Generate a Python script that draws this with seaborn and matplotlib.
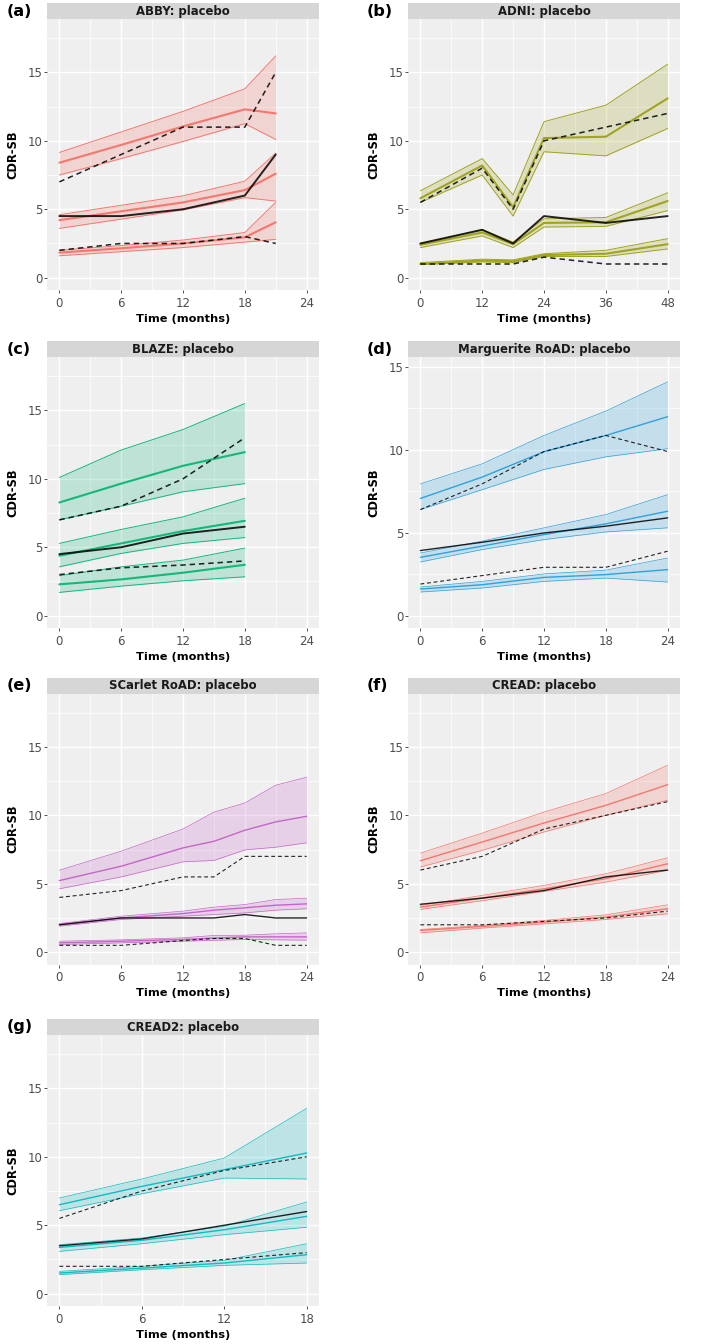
import matplotlib
matplotlib.use("Agg")
import matplotlib.pyplot as plt
from matplotlib.patches import Rectangle
from matplotlib.ticker import FixedLocator
import seaborn as sns
import pandas as pd

# ---------------- data ----------------
ABBY_t = [0, 6, 12, 18, 21]
ABBY_hi_lo = [7.5, 8.7, 9.95, 11.25, 10.1]
ABBY_hi_md = [8.4, 9.7, 11.05, 12.3, 12.0]
ABBY_hi_up = [9.15, 10.65, 12.15, 13.8, 16.2]
ABBY_mid_lo = [3.6, 4.28, 4.95, 5.85, 5.6]
ABBY_mid_md = [4.2, 4.85, 5.5, 6.4, 7.6]
ABBY_mid_up = [4.6, 5.29, 5.98, 7.05, 9.1]
ABBY_low_lo = [1.6, 1.9, 2.2, 2.6, 2.8]
ABBY_low_md = [1.83, 2.15, 2.5, 2.95, 4.05]
ABBY_low_up = [2.0, 2.35, 2.75, 3.3, 5.5]
ABBY_obs90 = [7.0, 9.0, 11.0, 11.0, 15.0]
ABBY_obs50 = [4.5, 4.5, 5.0, 6.0, 9.0]
ABBY_obs10 = [2.0, 2.5, 2.5, 3.0, 2.5]

ADNI_t = [0, 12, 18, 24, 36, 48]
ADNI_hi_lo = [5.5, 7.5, 4.5, 9.2, 8.9, 10.9]
ADNI_hi_md = [5.8, 8.2, 5.15, 10.2, 10.3, 13.1]
ADNI_hi_up = [6.35, 8.7, 6.05, 11.4, 12.6, 15.6]
ADNI_mid_lo = [2.2, 3.05, 2.2, 3.7, 3.75, 4.9]
ADNI_mid_md = [2.4, 3.3, 2.45, 4.0, 4.05, 5.6]
ADNI_mid_up = [2.5, 3.5, 2.6, 4.3, 4.4, 6.2]
ADNI_low_lo = [0.95, 1.15, 1.1, 1.55, 1.55, 2.1]
ADNI_low_md = [1.0, 1.25, 1.2, 1.65, 1.75, 2.45]
ADNI_low_up = [1.1, 1.35, 1.3, 1.75, 2.0, 2.85]
ADNI_obs90 = [5.5, 8.0, 5.0, 10.0, 11.0, 12.0]
ADNI_obs50 = [2.5, 3.5, 2.5, 4.5, 4.0, 4.5]
ADNI_obs10 = [1.0, 1.0, 1.0, 1.5, 1.0, 1.0]

BLAZE_t = [0, 6, 12, 18]
BLAZE_hi_lo = [7.0, 8.0, 9.05, 9.65]
BLAZE_hi_md = [8.27, 9.65, 10.95, 11.95]
BLAZE_hi_up = [10.1, 12.1, 13.6, 15.5]
BLAZE_mid_lo = [3.57, 4.55, 5.28, 5.71]
BLAZE_mid_md = [4.38, 5.28, 6.18, 6.93]
BLAZE_mid_up = [5.28, 6.3, 7.22, 8.58]
BLAZE_low_lo = [1.7, 2.16, 2.55, 2.84]
BLAZE_low_md = [2.29, 2.65, 3.14, 3.72]
BLAZE_low_up = [2.92, 3.57, 4.06, 4.94]
BLAZE_obs90 = [7.0, 8.0, 10.0, 13.0]
BLAZE_obs50 = [4.5, 5.0, 6.0, 6.5]
BLAZE_obs10 = [3.0, 3.5, 3.7, 4.0]

MARG_t = [0, 6, 12, 18, 24]
MARG_hi_lo = [6.4, 7.6, 8.82, 9.58, 10.07]
MARG_hi_md = [7.07, 8.36, 9.89, 10.87, 12.0]
MARG_hi_up = [7.95, 9.16, 10.87, 12.34, 14.1]
MARG_mid_lo = [3.24, 3.99, 4.59, 5.05, 5.3]
MARG_mid_md = [3.52, 4.2, 4.89, 5.54, 6.3]
MARG_mid_up = [3.78, 4.5, 5.3, 6.1, 7.3]
MARG_low_lo = [1.43, 1.67, 2.07, 2.27, 2.03]
MARG_low_md = [1.61, 1.87, 2.31, 2.48, 2.78]
MARG_low_up = [1.73, 2.07, 2.52, 2.75, 3.48]
MARG_obs90 = [6.4, 7.95, 9.9, 10.87, 9.9]
MARG_obs50 = [3.93, 4.43, 4.99, 5.4, 5.9]
MARG_obs10 = [1.91, 2.42, 2.92, 2.92, 3.89]

SCAR_t = [0, 6, 12, 15, 18, 21, 24]
SCAR_hi_lo = [4.63, 5.5, 6.6, 6.7, 7.47, 7.67, 7.99]
SCAR_hi_md = [5.23, 6.28, 7.62, 8.1, 8.91, 9.52, 9.93]
SCAR_hi_up = [5.99, 7.38, 9.0, 10.23, 10.9, 12.2, 12.78]
SCAR_mid_lo = [1.9, 2.39, 2.63, 2.75, 2.87, 3.07, 3.17]
SCAR_mid_md = [2.02, 2.5, 2.82, 3.07, 3.24, 3.43, 3.53]
SCAR_mid_up = [2.09, 2.63, 3.0, 3.29, 3.48, 3.85, 3.94]
SCAR_low_lo = [0.56, 0.68, 0.8, 0.87, 0.93, 0.9, 0.88]
SCAR_low_md = [0.68, 0.8, 0.93, 1.03, 1.12, 1.12, 1.12]
SCAR_low_up = [0.8, 0.9, 1.05, 1.22, 1.24, 1.34, 1.41]
SCAR_obs90 = [4.0, 4.5, 5.5, 5.5, 7.0, 7.0, 7.0]
SCAR_obs50 = [2.0, 2.5, 2.5, 2.5, 2.75, 2.5, 2.5]
SCAR_obs10 = [0.5, 0.5, 0.85, 1.0, 1.0, 0.5, 0.5]

CREAD_t = [0, 6, 12, 18, 24]
CREAD_hi_lo = [6.22, 7.44, 8.78, 10.0, 11.1]
CREAD_hi_md = [6.68, 8.05, 9.44, 10.73, 12.24]
CREAD_hi_up = [7.24, 8.7, 10.24, 11.59, 13.66]
CREAD_mid_lo = [3.12, 3.76, 4.44, 5.12, 5.98]
CREAD_mid_md = [3.29, 3.95, 4.63, 5.37, 6.46]
CREAD_mid_up = [3.41, 4.15, 4.88, 5.73, 6.9]
CREAD_low_lo = [1.41, 1.76, 2.07, 2.39, 2.8]
CREAD_low_md = [1.59, 1.88, 2.2, 2.56, 3.17]
CREAD_low_up = [1.66, 1.95, 2.32, 2.73, 3.46]
CREAD_obs90 = [6.0, 7.0, 9.0, 10.0, 11.0]
CREAD_obs50 = [3.5, 3.95, 4.5, 5.5, 6.0]
CREAD_obs10 = [2.0, 2.0, 2.25, 2.5, 3.0]

CREAD2_t = [0, 6, 12, 18]
CREAD2_hi_lo = [6.06, 7.3, 8.45, 8.38]
CREAD2_hi_md = [6.5, 7.84, 9.06, 10.28]
CREAD2_hi_up = [6.99, 8.38, 9.91, 13.54]
CREAD2_mid_lo = [3.09, 3.65, 4.31, 4.85]
CREAD2_mid_md = [3.38, 3.9, 4.67, 5.65]
CREAD2_mid_up = [3.58, 4.07, 4.92, 6.7]
CREAD2_low_lo = [1.39, 1.75, 2.07, 2.24]
CREAD2_low_md = [1.51, 1.87, 2.24, 2.85]
CREAD2_low_up = [1.63, 2.0, 2.43, 3.65]
CREAD2_obs90 = [5.5, 7.5, 9.0, 10.0]
CREAD2_obs50 = [3.5, 4.0, 5.0, 6.0]
CREAD2_obs10 = [2.0, 2.0, 2.5, 3.0]

titles = ["ABBY: placebo", "ADNI: placebo", "BLAZE: placebo",
          "Marguerite RoAD: placebo", "SCarlet RoAD: placebo",
          "CREAD: placebo", "CREAD2: placebo"]
panel_tags = ["(a)", "(b)", "(c)", "(d)", "(e)", "(f)", "(g)"]
colors = ["#F8766D", "#A0A41E", "#14B87A", "#2FA2DE", "#C566C9", "#F8766D", "#10BCC2"]
xtick_sets = [[0, 6, 12, 18, 24], [0, 12, 24, 36, 48], [0, 6, 12, 18, 24],
              [0, 6, 12, 18, 24], [0, 6, 12, 18, 24], [0, 6, 12, 18, 24],
              [0, 6, 12, 18]]
yticks = [0, 5, 10, 15]

panels = [
    (ABBY_t, [(ABBY_hi_lo, ABBY_hi_md, ABBY_hi_up), (ABBY_mid_lo, ABBY_mid_md, ABBY_mid_up),
              (ABBY_low_lo, ABBY_low_md, ABBY_low_up)], ABBY_obs90, ABBY_obs50, ABBY_obs10),
    (ADNI_t, [(ADNI_hi_lo, ADNI_hi_md, ADNI_hi_up), (ADNI_mid_lo, ADNI_mid_md, ADNI_mid_up),
              (ADNI_low_lo, ADNI_low_md, ADNI_low_up)], ADNI_obs90, ADNI_obs50, ADNI_obs10),
    (BLAZE_t, [(BLAZE_hi_lo, BLAZE_hi_md, BLAZE_hi_up), (BLAZE_mid_lo, BLAZE_mid_md, BLAZE_mid_up),
               (BLAZE_low_lo, BLAZE_low_md, BLAZE_low_up)], BLAZE_obs90, BLAZE_obs50, BLAZE_obs10),
    (MARG_t, [(MARG_hi_lo, MARG_hi_md, MARG_hi_up), (MARG_mid_lo, MARG_mid_md, MARG_mid_up),
              (MARG_low_lo, MARG_low_md, MARG_low_up)], MARG_obs90, MARG_obs50, MARG_obs10),
    (SCAR_t, [(SCAR_hi_lo, SCAR_hi_md, SCAR_hi_up), (SCAR_mid_lo, SCAR_mid_md, SCAR_mid_up),
              (SCAR_low_lo, SCAR_low_md, SCAR_low_up)], SCAR_obs90, SCAR_obs50, SCAR_obs10),
    (CREAD_t, [(CREAD_hi_lo, CREAD_hi_md, CREAD_hi_up), (CREAD_mid_lo, CREAD_mid_md, CREAD_mid_up),
               (CREAD_low_lo, CREAD_low_md, CREAD_low_up)], CREAD_obs90, CREAD_obs50, CREAD_obs10),
    (CREAD2_t, [(CREAD2_hi_lo, CREAD2_hi_md, CREAD2_hi_up), (CREAD2_mid_lo, CREAD2_mid_md, CREAD2_mid_up),
                (CREAD2_low_lo, CREAD2_low_md, CREAD2_low_up)], CREAD2_obs90, CREAD2_obs50, CREAD2_obs10),
]

# ---------------- style ----------------
sns.set_theme(style="darkgrid", rc={
    "axes.facecolor": "#EFEFEF",
    "grid.color": "white",
    "axes.edgecolor": "none",
})
plt.rcParams["font.family"] = ["DejaVu Sans"]

W, H = 709, 1344
fig = plt.figure(figsize=(W / 100, H / 100), dpi=100)

col_left = [47, 408]
col_w = 272
row_tops = [19, 357, 693.5, 1035]
ax_h = 271
strip_h = 16

for i, (t, bands, o90, o50, o10) in enumerate(panels):
    r, c = divmod(i, 2)
    left = col_left[c]
    top = row_tops[r]
    ax = fig.add_axes([left / W, 1 - (top + ax_h) / H, col_w / W, ax_h / H])
    col = colors[i]
    thick = i in (0, 1, 2)
    lw_md = 1.5 if thick else 1.0
    lw_b = 0.7 if thick else 0.5
    lw_k = 1.4 if thick else 1.0

    for lo, md, up in bands:
        ax.fill_between(t, lo, up, color=col, alpha=0.22, linewidth=0)
        sns.lineplot(x=t, y=lo, ax=ax, color=col, linewidth=lw_b)
        sns.lineplot(x=t, y=up, ax=ax, color=col, linewidth=lw_b)
        sns.lineplot(x=t, y=md, ax=ax, color=col, linewidth=lw_md)
    sns.lineplot(x=t, y=o90, ax=ax, color="black", linewidth=lw_k * 0.8,
                 linestyle=(0, (3.5, 2.5)), alpha=0.85)
    sns.lineplot(x=t, y=o10, ax=ax, color="black", linewidth=lw_k * 0.8,
                 linestyle=(0, (3.5, 2.5)), alpha=0.85)
    sns.lineplot(x=t, y=o50, ax=ax, color="black", linewidth=lw_k, alpha=0.85)

    xt = xtick_sets[i]
    step = xt[1] - xt[0]
    span = xt[-1] - xt[0]
    ax.set_xlim(xt[0] - 0.05 * span, xt[-1] + 0.05 * span)
    if i == 3:
        ax.set_ylim(-0.74, 15.6)
        ymin = [2.5, 7.5, 12.5]
    else:
        ax.set_ylim(-0.9, 18.9)
        ymin = [2.5, 7.5, 12.5, 17.5]
    ax.set_xticks(xt)
    ax.set_yticks(yticks)
    ax.xaxis.set_minor_locator(FixedLocator([x + step / 2 for x in xt[:-1]]))
    ax.yaxis.set_minor_locator(FixedLocator(ymin))
    ax.grid(which="major", color="white", linewidth=1.0)
    ax.grid(which="minor", color="white", linewidth=0.5)
    ax.set_axisbelow(True)
    for s in ax.spines.values():
        s.set_visible(False)
    ax.tick_params(axis="both", which="major", length=2.2, width=0.6, color="#333333",
                   labelsize=8.5, labelcolor="#4D4D4D")
    ax.tick_params(axis="x", which="major", pad=2.6, bottom=True)
    ax.tick_params(axis="y", which="major", pad=1.0, left=True)
    ax.tick_params(which="minor", length=0)

    ax.set_xlabel("Time (months)", fontsize=8.2, fontweight="bold", color="black")
    ax.set_ylabel("CDR-SB", fontsize=8.3, fontweight="bold", color="black")
    ax.xaxis.set_label_coords(0.5, -29 / ax_h)
    ax.xaxis.label.set_va("center")
    ax.yaxis.set_label_coords(-34.5 / col_w, 0.5)
    ax.yaxis.label.set_va("center")

    # facet strip
    ax.add_patch(Rectangle((0, 1), 1, strip_h / ax_h, transform=ax.transAxes,
                           facecolor="#D6D6D6", edgecolor="none", clip_on=False))
    ax.text(0.5, 1 + strip_h / 2 / ax_h, titles[i], transform=ax.transAxes,
            ha="center", va="center", fontsize=8.4, fontweight="bold", color="#1A1A1A")

    # panel tag
    tag_x = 7 if c == 0 else 367
    fig.text(tag_x / W, 1 - (top - strip_h / 2) / H, panel_tags[i], ha="left", va="center",
             fontsize=11.6, fontweight="bold", color="black")

fig.savefig("out.png", dpi=100, facecolor="white")
